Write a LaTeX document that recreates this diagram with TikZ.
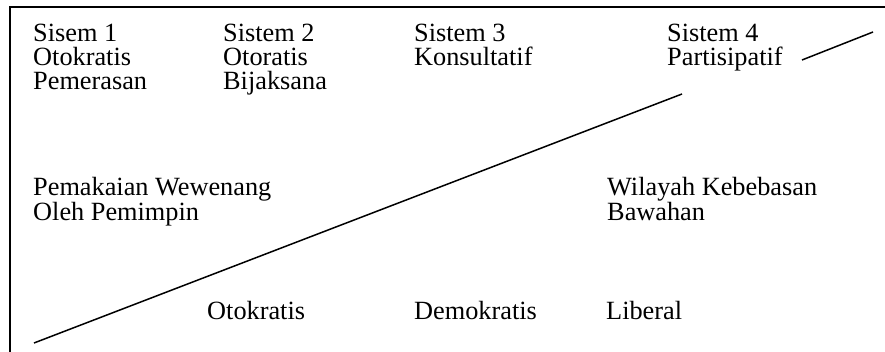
\documentclass[tikz,border=0pt]{standalone}
\usepackage{fontspec}
\setmainfont{Liberation Serif}
\begin{document}
\begin{tikzpicture}[x=1pt,y=-1pt,
  lbl/.style={anchor=base west,inner sep=0pt,font=\fontsize{26.3}{23.8}\selectfont},
  frameline/.style={line width=1.6pt},
  diag/.style={line width=1.5pt}]
\useasboundingbox (0,0) rectangle (885,352);
% frame (left and top edges)
\coordinate (fb) at (10,352);
\coordinate (ft) at (10,7);
\coordinate (fr) at (885,7);
\draw[frameline] (fb) -- (ft) -- (fr);
% diagonal line in two parts
\coordinate (d1) at (34,343);
\coordinate (d2) at (682,94);
\coordinate (d3) at (802,60);
\coordinate (d4) at (873,32);
\draw[diag] (d1) -- (d2);
\draw[diag] (d3) -- (d4);
% texts
\node[lbl] (s1) at (33,42) {\parbox[t]{200pt}{Sisem 1\\Otokratis\\Pemerasan}};
\node[lbl] (s2) at (223,42) {\parbox[t]{200pt}{Sistem 2\\Otoratis\\Bijaksana}};
\node[lbl] (s3) at (414,42) {\parbox[t]{200pt}{Sistem 3\\Konsultatif}};
\node[lbl] (s4) at (667,42) {\parbox[t]{200pt}{Sistem 4\\Partisipatif}};
\node[lbl] (pw) at (33,196) {\parbox[t]{300pt}{Pemakaian Wewenang\\Oleh Pemimpin}};
\node[lbl] (wk) at (607,196) {\parbox[t]{250pt}{Wilayah Kebebasan\\Bawahan}};
\node[lbl] (ot) at (207,319) {Otokratis};
\node[lbl] (de) at (414,319) {Demokratis};
\node[lbl] (li) at (606,319) {Liberal};
\end{tikzpicture}
\end{document}
